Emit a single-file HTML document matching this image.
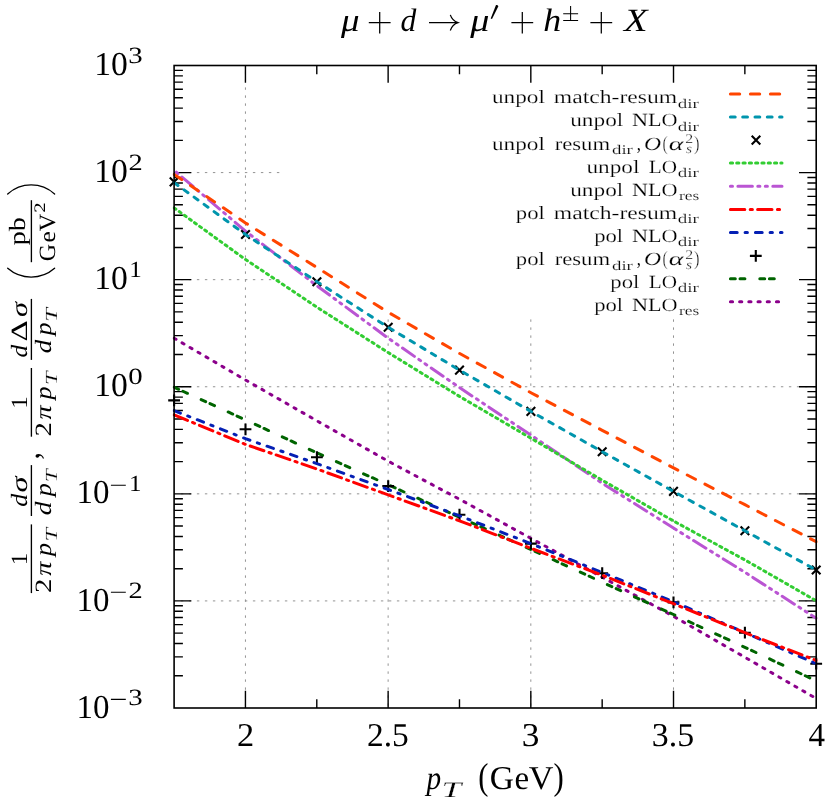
<!DOCTYPE html>
<html><head><meta charset="utf-8"><title>plot</title>
<style>html,body{margin:0;padding:0;background:#fff}svg{display:block}text{text-rendering:geometricPrecision}.tx{filter:grayscale(1)}text{font-family:"Liberation Serif",serif}</style>
</head><body>
<svg width="830" height="804" viewBox="0 0 830 804">
<defs><clipPath id="pc"><rect x="172.70" y="64.10" width="644.90" height="645.30"/></clipPath></defs>
<rect width="830" height="804" fill="#fff"/>
<g stroke="#939393" stroke-width="1.0" stroke-dasharray="2.4 5.6" fill="none"><line x1="245.44" y1="708.00" x2="245.44" y2="65.50" stroke-dashoffset="5.8"/><line x1="388.13" y1="708.00" x2="388.13" y2="317.50" stroke-dashoffset="5.8"/><line x1="530.82" y1="708.00" x2="530.82" y2="317.50" stroke-dashoffset="5.8"/><line x1="673.51" y1="708.00" x2="673.51" y2="317.50" stroke-dashoffset="5.8"/><line x1="174.10" y1="172.58" x2="279.50" y2="172.58" stroke-dashoffset="1.2"/><line x1="174.10" y1="279.67" x2="279.50" y2="279.67" stroke-dashoffset="1.2"/><line x1="174.10" y1="386.75" x2="816.20" y2="386.75" stroke-dashoffset="1.2"/><line x1="174.10" y1="493.83" x2="816.20" y2="493.83" stroke-dashoffset="1.2"/><line x1="174.10" y1="600.92" x2="816.20" y2="600.92" stroke-dashoffset="1.2"/></g>
<path d="M174.10 675.76h8.8M816.20 675.76h-8.8M174.10 656.91h8.8M816.20 656.91h-8.8M174.10 643.53h8.8M816.20 643.53h-8.8M174.10 633.15h8.8M816.20 633.15h-8.8M174.10 624.67h8.8M816.20 624.67h-8.8M174.10 617.50h8.8M816.20 617.50h-8.8M174.10 611.29h8.8M816.20 611.29h-8.8M174.10 605.82h8.8M816.20 605.82h-8.8M174.10 600.92h17.2M816.20 600.92h-17.2M174.10 568.68h8.8M816.20 568.68h-8.8M174.10 549.82h8.8M816.20 549.82h-8.8M174.10 536.45h8.8M816.20 536.45h-8.8M174.10 526.07h8.8M816.20 526.07h-8.8M174.10 517.59h8.8M816.20 517.59h-8.8M174.10 510.42h8.8M816.20 510.42h-8.8M174.10 504.21h8.8M816.20 504.21h-8.8M174.10 498.73h8.8M816.20 498.73h-8.8M174.10 493.83h17.2M816.20 493.83h-17.2M174.10 461.60h8.8M816.20 461.60h-8.8M174.10 442.74h8.8M816.20 442.74h-8.8M174.10 429.36h8.8M816.20 429.36h-8.8M174.10 418.99h8.8M816.20 418.99h-8.8M174.10 410.51h8.8M816.20 410.51h-8.8M174.10 403.34h8.8M816.20 403.34h-8.8M174.10 397.13h8.8M816.20 397.13h-8.8M174.10 391.65h8.8M816.20 391.65h-8.8M174.10 386.75h17.2M816.20 386.75h-17.2M174.10 354.51h8.8M816.20 354.51h-8.8M174.10 335.66h8.8M816.20 335.66h-8.8M174.10 322.28h8.8M816.20 322.28h-8.8M174.10 311.90h8.8M816.20 311.90h-8.8M174.10 303.42h8.8M816.20 303.42h-8.8M174.10 296.25h8.8M816.20 296.25h-8.8M174.10 290.04h8.8M816.20 290.04h-8.8M174.10 284.57h8.8M816.20 284.57h-8.8M174.10 279.67h17.2M816.20 279.67h-17.2M174.10 247.43h8.8M816.20 247.43h-8.8M174.10 228.57h8.8M816.20 228.57h-8.8M174.10 215.20h8.8M816.20 215.20h-8.8M174.10 204.82h8.8M816.20 204.82h-8.8M174.10 196.34h8.8M816.20 196.34h-8.8M174.10 189.17h8.8M816.20 189.17h-8.8M174.10 182.96h8.8M816.20 182.96h-8.8M174.10 177.48h8.8M816.20 177.48h-8.8M174.10 172.58h17.2M816.20 172.58h-17.2M174.10 140.35h8.8M816.20 140.35h-8.8M174.10 121.49h8.8M816.20 121.49h-8.8M174.10 108.11h8.8M816.20 108.11h-8.8M174.10 97.74h8.8M816.20 97.74h-8.8M174.10 89.26h8.8M816.20 89.26h-8.8M174.10 82.09h8.8M816.20 82.09h-8.8M174.10 75.88h8.8M816.20 75.88h-8.8M174.10 70.40h8.8M816.20 70.40h-8.8M245.44 65.50v17.2M245.44 708.00v-17.2M316.79 65.50v8.8M316.79 708.00v-8.8M388.13 65.50v17.2M388.13 708.00v-17.2M459.48 65.50v8.8M459.48 708.00v-8.8M530.82 65.50v17.2M530.82 708.00v-17.2M602.17 65.50v8.8M602.17 708.00v-8.8M673.51 65.50v17.2M673.51 708.00v-17.2M744.86 65.50v8.8M744.86 708.00v-8.8" stroke="#000" stroke-width="1.4" fill="none"/>
<g fill="none" stroke-width="3.0" stroke-linecap="round"><path d="M730.4 93.9H782.0" stroke="#ff4500" stroke-dasharray="9.3 10.7" stroke-dashoffset="0"/><path d="M730.4 116.9H782.0" stroke="#0095ad" stroke-dasharray="4.8 7.5" stroke-dashoffset="0"/><path d="M730.4 163.1H782.0" stroke="#32cd32" stroke-dasharray="2.2 4.1" stroke-dashoffset="0"/><path d="M730.4 186.3H782.0" stroke="#ba55d3" stroke-dasharray="14.5 5.4 2.1 5.4 2.1 5.4" stroke-dashoffset="27.4"/><path d="M730.4 209.4H782.0" stroke="#ff0000" stroke-dasharray="14.4 5.4 2.2 5.2" stroke-dashoffset="0"/><path d="M730.4 232.6H782.0" stroke="#0520b4" stroke-dasharray="6.8 7.9 2.3 8.0" stroke-dashoffset="0"/><path d="M730.4 278.7H782.0" stroke="#006400" stroke-dasharray="4.9 4.7 4.9 14.9" stroke-dashoffset="0"/><path d="M730.4 301.7H782.0" stroke="#8b008b" stroke-dasharray="2.2 7.0" stroke-dashoffset="0"/></g>
<path clip-path="url(#pc)" d="M174.10 338.20 L245.50 380.00 L316.90 420.80 L388.20 461.20 L459.50 499.20 L530.90 538.30 L602.20 577.20 L673.50 616.30 L744.90 657.30 L816.20 698.50" fill="none" stroke-width="3.0" stroke-linecap="round" stroke-linejoin="round" stroke="#8b008b" stroke-dasharray="2.210 7.033" stroke-dashoffset="0"/><path clip-path="url(#pc)" d="M174.10 387.20 L245.50 419.90 L316.90 452.90 L388.20 484.80 L459.50 517.20 L530.90 549.50 L602.20 582.20 L673.50 614.50 L744.90 647.30 L816.20 680.90" fill="none" stroke-width="3.0" stroke-linecap="round" stroke-linejoin="round" stroke="#006400" stroke-dasharray="4.959 4.756 4.959 15.079" stroke-dashoffset="0"/><path d="M168.20 400.40h11.8M174.10 394.50v11.8M239.60 429.30h11.8M245.50 423.40v11.8M311.00 457.20h11.8M316.90 451.30v11.8M382.30 486.10h11.8M388.20 480.20v11.8M453.60 514.70h11.8M459.50 508.80v11.8M525.00 543.60h11.8M530.90 537.70v11.8M596.30 573.20h11.8M602.20 567.30v11.8M667.60 602.40h11.8M673.50 596.50v11.8M739.00 632.70h11.8M744.90 626.80v11.8M810.30 663.70h11.8M816.20 657.80v11.8M749.90 255.90h11.8M755.80 250.00v11.8" stroke="#000" stroke-width="2.1" fill="none"/><path clip-path="url(#pc)" d="M174.10 410.60 L245.50 438.70 L316.90 463.60 L388.20 489.50 L459.50 515.80 L530.90 543.60 L602.20 572.50 L673.50 601.70 L744.90 632.70 L816.20 663.70" fill="none" stroke-width="3.0" stroke-linecap="round" stroke-linejoin="round" stroke="#0520b4" stroke-dasharray="6.768 7.863 2.289 7.962" stroke-dashoffset="0"/><path clip-path="url(#pc)" d="M174.10 414.80 L245.50 444.40 L316.90 469.00 L388.20 494.90 L459.50 520.80 L530.90 548.30 L602.20 575.20 L673.50 603.70 L744.90 632.70 L816.20 660.50" fill="none" stroke-width="3.0" stroke-linecap="round" stroke-linejoin="round" stroke="#ff0000" stroke-dasharray="14.512 5.442 2.217 5.241" stroke-dashoffset="0"/><path clip-path="url(#pc)" d="M174.10 170.30 L245.50 231.10 L316.90 285.80 L388.20 338.20 L459.50 387.60 L530.90 435.10 L602.20 483.20 L673.50 528.10 L744.90 572.30 L816.20 618.20" fill="none" stroke-width="3.0" stroke-linecap="round" stroke-linejoin="round" stroke="#ba55d3" stroke-dasharray="14.500 5.400 2.100 5.400 2.100 5.400" stroke-dashoffset="24.5"/><path clip-path="url(#pc)" d="M174.10 207.90 L245.50 259.50 L316.90 307.20 L388.20 352.60 L459.50 396.40 L530.90 438.20 L602.20 480.20 L673.50 521.00 L744.90 559.90 L816.20 600.80" fill="none" stroke-width="3.0" stroke-linecap="round" stroke-linejoin="round" stroke="#32cd32" stroke-dasharray="2.200 4.100" stroke-dashoffset="0"/><path d="M169.80 177.60L178.40 186.20M169.80 186.20L178.40 177.60M241.20 230.20L249.80 238.80M241.20 238.80L249.80 230.20M312.60 277.40L321.20 286.00M312.60 286.00L321.20 277.40M383.90 323.00L392.50 331.60M383.90 331.60L392.50 323.00M455.20 365.80L463.80 374.40M455.20 374.40L463.80 365.80M526.60 407.10L535.20 415.70M526.60 415.70L535.20 407.10M597.90 447.40L606.50 456.00M597.90 456.00L606.50 447.40M669.20 487.10L677.80 495.70M669.20 495.70L677.80 487.10M740.60 526.50L749.20 535.10M740.60 535.10L749.20 526.50M811.90 565.70L820.50 574.30M811.90 574.30L820.50 565.70M751.70 135.80L760.30 144.40M751.70 144.40L760.30 135.80" stroke="#000" stroke-width="2.1" fill="none"/><path clip-path="url(#pc)" d="M174.10 182.60 L245.50 234.50 L316.90 281.70 L388.20 327.30 L459.50 370.10 L530.90 411.40 L602.20 451.70 L673.50 491.40 L744.90 530.80 L816.20 570.00" fill="none" stroke-width="3.0" stroke-linecap="round" stroke-linejoin="round" stroke="#0095ad" stroke-dasharray="4.822 7.534" stroke-dashoffset="0"/><path clip-path="url(#pc)" d="M174.10 174.40 L245.50 222.90 L316.90 267.50 L388.20 312.30 L459.50 353.40 L530.90 392.70 L602.20 430.30 L673.50 467.90 L744.90 504.70 L816.20 541.70" fill="none" stroke-width="3.0" stroke-linecap="round" stroke-linejoin="round" stroke="#ff4500" stroke-dasharray="9.226 10.614" stroke-dashoffset="0"/>
<rect x="174.1" y="65.5" width="642.10" height="642.50" fill="none" stroke="#000" stroke-width="1.6"/>
<path d="M368.80 22.7h21.8M379.70 11.9v21.7M511.40 22.7h21.8M522.30 11.9v21.7M590.40 22.7h21.8M601.30 11.9v21.7M429.0 22.7H457.4M450.3 14.9C451.6 18.7 454.3 21.5 458.0 22.7C454.3 23.9 451.6 26.7 450.3 30.5" stroke="#000" stroke-width="1.25" fill="none"/><path d="M563.2 13.7H578.1M570.6 5.9V20.1M563.2 20.5H578.1" stroke="#000" stroke-width="1.05" fill="none"/><path d="M496.0 5.0Q497.6 4.6 498.4 6.2L492.0 18.9L490.7 18.4Z" fill="#000"/>
<path d="M110.9 485.23H125.8M110.9 592.32H125.8M110.9 699.40H125.8" stroke="#000" stroke-width="1.1" fill="none"/>
<g class="tx" font-family="'Liberation Serif', serif"><text transform="matrix(1.0291 0 0 1.0000 237.03 746.20)" font-size="33.4" fill="#000">2</text><text transform="matrix(1.0009 0 0 1.0000 366.96 746.20)" font-size="33.4" fill="#000">2.5</text><text transform="matrix(1.0574 0 0 1.0000 521.74 746.20)" font-size="33.4" fill="#000">3</text><text transform="matrix(1.0143 0 0 1.0000 651.81 746.20)" font-size="33.4" fill="#000">3.5</text><text transform="matrix(0.9900 0 0 1.0000 808.38 746.20)" font-size="33.4" fill="#000">4</text><text transform="matrix(1.0085 0 0 1.0000 94.27 75.20)" font-size="33.4" fill="#000">10</text><text transform="matrix(1.2411 0 0 1.0000 128.14 62.70)" font-size="23.3" fill="#000">3</text><text transform="matrix(1.0085 0 0 1.0000 94.27 182.28)" font-size="33.4" fill="#000">10</text><text transform="matrix(1.2208 0 0 1.0000 128.61 169.78)" font-size="23.3" fill="#000">2</text><text transform="matrix(1.0085 0 0 1.0000 94.27 289.37)" font-size="33.4" fill="#000">10</text><text transform="matrix(1.0758 0 0 1.0000 129.24 276.87)" font-size="23.3" fill="#000">1</text><text transform="matrix(1.0085 0 0 1.0000 94.27 396.45)" font-size="33.4" fill="#000">10</text><text transform="matrix(1.2361 0 0 1.0000 128.20 383.95)" font-size="23.3" fill="#000">0</text><text transform="matrix(0.9883 0 0 1.0000 76.52 503.43)" font-size="33.4" fill="#000">10</text><text transform="matrix(1.0758 0 0 1.0000 129.04 491.03)" font-size="23.3" fill="#000">1</text><text transform="matrix(0.9883 0 0 1.0000 76.52 610.52)" font-size="33.4" fill="#000">10</text><text transform="matrix(1.2208 0 0 1.0000 128.61 598.12)" font-size="23.3" fill="#000">2</text><text transform="matrix(0.9883 0 0 1.0000 76.52 717.60)" font-size="33.4" fill="#000">10</text><text transform="matrix(1.2411 0 0 1.0000 128.14 705.20)" font-size="23.3" fill="#000">3</text><text transform="matrix(0.8760 0 0 1.0000 426.53 788.60)" font-size="33.4" font-style="italic" fill="#000">p</text><text transform="matrix(1.1793 0 0 0.7400 441.59 796.80)" font-size="30.0" font-style="italic" stroke="#fff" stroke-width="0.254" fill="#000">T</text><text transform="matrix(0.9155 0 0 1.1200 478.24 788.90)" font-size="33.4" fill="#000">(</text><text transform="matrix(1.0026 0 0 1.0000 489.85 788.90)" font-size="33.4" fill="#000">G</text><text transform="matrix(0.9887 0 0 1.0000 514.47 788.90)" font-size="33.4" fill="#000">e</text><text transform="matrix(1.0247 0 0 1.0000 528.80 788.90)" font-size="33.4" fill="#000">V</text><text transform="matrix(0.9243 0 0 1.1200 553.44 788.90)" font-size="33.4" fill="#000">)</text><text transform="matrix(1.1336 0 0 1.0000 340.88 30.70)" font-size="32.6" font-style="italic" fill="#000">μ</text><text transform="matrix(0.9693 0 0 1.0000 400.51 30.70)" font-size="32.6" font-style="italic" fill="#000">d</text><text transform="matrix(1.1716 0 0 1.0000 470.20 30.70)" font-size="32.6" font-style="italic" fill="#000">μ</text><text transform="matrix(1.1008 0 0 1.0000 543.18 30.70)" font-size="32.6" font-style="italic" fill="#000">h</text><text transform="matrix(1.1866 0 0 1.0000 624.11 30.70)" font-size="32.6" font-style="italic" fill="#000">X</text><text transform="matrix(1.2439 0 0 1.0000 491.90 103.30)" font-size="18.7" stroke="#fff" stroke-width="0.177" fill="#000">unpol</text><text transform="matrix(1.2647 0 0 1.0000 553.83 103.30)" font-size="18.7" stroke="#fff" stroke-width="0.174" fill="#000">match-resum</text><text transform="matrix(1.4380 0 0 1.0000 677.81 107.50)" font-size="13.2" stroke="#fff" stroke-width="0.153" fill="#000">dir</text><text transform="matrix(1.2462 0 0 1.0000 570.20 126.30)" font-size="18.7" stroke="#fff" stroke-width="0.177" fill="#000">unpol</text><text transform="matrix(1.1869 0 0 1.0000 632.05 126.30)" font-size="18.7" stroke="#fff" stroke-width="0.185" fill="#000">NLO</text><text transform="matrix(1.4380 0 0 1.0000 677.81 130.50)" font-size="13.2" stroke="#fff" stroke-width="0.153" fill="#000">dir</text><text transform="matrix(1.2439 0 0 1.0000 491.90 149.50)" font-size="18.7" stroke="#fff" stroke-width="0.177" fill="#000">unpol</text><text transform="matrix(1.2129 0 0 1.0000 554.65 149.50)" font-size="18.7" stroke="#fff" stroke-width="0.181" fill="#000">resum</text><text transform="matrix(1.4239 0 0 1.0000 612.01 153.70)" font-size="13.2" stroke="#fff" stroke-width="0.155" fill="#000">dir</text><text transform="matrix(0.8898 0 0 1.0000 636.68 149.50)" font-size="18.7" fill="#000">,</text><text transform="matrix(1.2631 0 0 1.0000 644.09 149.50)" font-size="18.7" font-style="italic" stroke="#fff" stroke-width="0.174" fill="#000">O</text><text transform="matrix(0.8366 0 0 1.0800 662.51 149.50)" font-size="18.7" stroke="#fff" stroke-width="0.359" fill="#000">(</text><text transform="matrix(1.4998 0 0 1.0000 668.86 149.50)" font-size="18.7" font-style="italic" stroke="#fff" stroke-width="0.147" fill="#000">α</text><text transform="matrix(1.2031 0 0 1.0000 685.30 142.90)" font-size="13.2" stroke="#fff" stroke-width="0.249" fill="#000">2</text><text transform="matrix(1.1805 0 0 1.0000 686.00 153.30)" font-size="13.2" font-style="italic" stroke="#fff" stroke-width="0.254" fill="#000">s</text><text transform="matrix(0.8858 0 0 1.0800 694.08 149.50)" font-size="18.7" stroke="#fff" stroke-width="0.339" fill="#000">)</text><text transform="matrix(1.2439 0 0 1.0000 586.40 172.50)" font-size="18.7" stroke="#fff" stroke-width="0.177" fill="#000">unpol</text><text transform="matrix(1.1340 0 0 1.0000 648.77 172.50)" font-size="18.7" stroke="#fff" stroke-width="0.194" fill="#000">LO</text><text transform="matrix(1.4380 0 0 1.0000 677.81 176.70)" font-size="13.2" stroke="#fff" stroke-width="0.153" fill="#000">dir</text><text transform="matrix(1.2462 0 0 1.0000 570.20 195.70)" font-size="18.7" stroke="#fff" stroke-width="0.177" fill="#000">unpol</text><text transform="matrix(1.1869 0 0 1.0000 632.05 195.70)" font-size="18.7" stroke="#fff" stroke-width="0.185" fill="#000">NLO</text><text transform="matrix(1.3250 0 0 1.0000 678.93 199.90)" font-size="13.2" stroke="#fff" stroke-width="0.166" fill="#000">res</text><text transform="matrix(1.2150 0 0 1.0000 515.85 218.80)" font-size="18.7" stroke="#fff" stroke-width="0.181" fill="#000">pol</text><text transform="matrix(1.2647 0 0 1.0000 553.83 218.80)" font-size="18.7" stroke="#fff" stroke-width="0.174" fill="#000">match-resum</text><text transform="matrix(1.4380 0 0 1.0000 677.81 223.00)" font-size="13.2" stroke="#fff" stroke-width="0.153" fill="#000">dir</text><text transform="matrix(1.2150 0 0 1.0000 594.14 242.00)" font-size="18.7" stroke="#fff" stroke-width="0.181" fill="#000">pol</text><text transform="matrix(1.1869 0 0 1.0000 632.05 242.00)" font-size="18.7" stroke="#fff" stroke-width="0.185" fill="#000">NLO</text><text transform="matrix(1.4380 0 0 1.0000 677.81 246.20)" font-size="13.2" stroke="#fff" stroke-width="0.153" fill="#000">dir</text><text transform="matrix(1.2150 0 0 1.0000 515.85 265.30)" font-size="18.7" stroke="#fff" stroke-width="0.181" fill="#000">pol</text><text transform="matrix(1.2129 0 0 1.0000 554.65 265.30)" font-size="18.7" stroke="#fff" stroke-width="0.181" fill="#000">resum</text><text transform="matrix(1.4239 0 0 1.0000 612.01 269.50)" font-size="13.2" stroke="#fff" stroke-width="0.155" fill="#000">dir</text><text transform="matrix(0.8898 0 0 1.0000 636.68 265.30)" font-size="18.7" fill="#000">,</text><text transform="matrix(1.2631 0 0 1.0000 644.09 265.30)" font-size="18.7" font-style="italic" stroke="#fff" stroke-width="0.174" fill="#000">O</text><text transform="matrix(0.8366 0 0 1.0800 662.51 265.30)" font-size="18.7" stroke="#fff" stroke-width="0.359" fill="#000">(</text><text transform="matrix(1.4998 0 0 1.0000 668.86 265.30)" font-size="18.7" font-style="italic" stroke="#fff" stroke-width="0.147" fill="#000">α</text><text transform="matrix(1.2031 0 0 1.0000 685.30 258.70)" font-size="13.2" stroke="#fff" stroke-width="0.249" fill="#000">2</text><text transform="matrix(1.1805 0 0 1.0000 686.00 269.10)" font-size="13.2" font-style="italic" stroke="#fff" stroke-width="0.254" fill="#000">s</text><text transform="matrix(0.8858 0 0 1.0800 694.08 265.30)" font-size="18.7" stroke="#fff" stroke-width="0.339" fill="#000">)</text><text transform="matrix(1.2150 0 0 1.0000 610.35 288.10)" font-size="18.7" stroke="#fff" stroke-width="0.181" fill="#000">pol</text><text transform="matrix(1.1340 0 0 1.0000 648.77 288.10)" font-size="18.7" stroke="#fff" stroke-width="0.194" fill="#000">LO</text><text transform="matrix(1.4380 0 0 1.0000 677.81 292.30)" font-size="13.2" stroke="#fff" stroke-width="0.153" fill="#000">dir</text><text transform="matrix(1.2150 0 0 1.0000 594.14 311.10)" font-size="18.7" stroke="#fff" stroke-width="0.181" fill="#000">pol</text><text transform="matrix(1.1869 0 0 1.0000 632.05 311.10)" font-size="18.7" stroke="#fff" stroke-width="0.185" fill="#000">NLO</text><text transform="matrix(1.3250 0 0 1.0000 678.93 315.30)" font-size="13.2" stroke="#fff" stroke-width="0.166" fill="#000">res</text></g>
<g class="tx" transform="translate(0 593.0) rotate(-90)" font-family="'Liberation Serif', serif"><text transform="matrix(1.0644 0 0 1.0000 27.76 27.00)" font-size="23.3" fill="#000">1</text><text transform="matrix(1.2411 0 0 1.0000 0.10 51.10)" font-size="23.3" fill="#000">2</text><text transform="matrix(1.2118 0 0 1.0000 17.20 51.20)" font-size="23.3" font-style="italic" fill="#000">π</text><text transform="matrix(1.1223 0 0 1.0000 37.03 51.20)" font-size="23.3" font-style="italic" fill="#000">p</text><text transform="matrix(1.1071 0 0 0.7700 51.58 57.10)" font-size="22.0" font-style="italic" stroke="#fff" stroke-width="0.226" fill="#000">T</text><text transform="matrix(1.0644 0 0 1.0000 184.16 27.00)" font-size="23.3" fill="#000">1</text><text transform="matrix(1.2411 0 0 1.0000 156.50 51.10)" font-size="23.3" fill="#000">2</text><text transform="matrix(1.2118 0 0 1.0000 173.60 51.20)" font-size="23.3" font-style="italic" fill="#000">π</text><text transform="matrix(1.1223 0 0 1.0000 193.43 51.20)" font-size="23.3" font-style="italic" fill="#000">p</text><text transform="matrix(1.1071 0 0 0.7700 207.98 57.10)" font-size="22.0" font-style="italic" stroke="#fff" stroke-width="0.226" fill="#000">T</text><text transform="matrix(1.1159 0 0 1.0000 86.19 27.00)" font-size="23.3" font-style="italic" fill="#000">d</text><text transform="matrix(1.3900 0 0 1.0000 100.39 27.00)" font-size="23.3" font-style="italic" fill="#000">σ</text><text transform="matrix(1.1845 0 0 1.0000 77.77 51.30)" font-size="23.3" font-style="italic" fill="#000">d</text><text transform="matrix(1.1223 0 0 1.0000 96.63 51.20)" font-size="23.3" font-style="italic" fill="#000">p</text><text transform="matrix(1.0586 0 0 0.7700 110.84 57.10)" font-size="22.0" font-style="italic" stroke="#fff" stroke-width="0.236" fill="#000">T</text><text transform="matrix(0.8814 0 0 1.0000 133.38 38.90)" font-size="33.4" fill="#000">,</text><text transform="matrix(1.0815 0 0 1.0000 235.41 27.00)" font-size="23.3" font-style="italic" fill="#000">d</text><text transform="matrix(1.4179 0 0 1.0000 251.47 26.80)" font-size="23.3" fill="#000">Δ</text><text transform="matrix(1.2985 0 0 1.0000 275.93 27.00)" font-size="23.3" font-style="italic" fill="#000">σ</text><text transform="matrix(1.1588 0 0 1.0000 239.68 51.30)" font-size="23.3" font-style="italic" fill="#000">d</text><text transform="matrix(1.0909 0 0 1.0000 257.79 51.20)" font-size="23.3" font-style="italic" fill="#000">p</text><text transform="matrix(1.1232 0 0 0.7700 271.26 57.10)" font-size="22.0" font-style="italic" stroke="#fff" stroke-width="0.223" fill="#000">T</text><text transform="matrix(1.2023 0 0 1.0000 347.76 25.20)" font-size="23.3" fill="#000">pb</text><text transform="matrix(1.0284 0 0 1.0000 331.75 55.40)" font-size="23.3" fill="#000">G</text><text transform="matrix(1.0987 0 0 1.0000 350.50 55.40)" font-size="23.3" fill="#000">e</text><text transform="matrix(1.0450 0 0 1.0000 361.80 55.40)" font-size="23.3" fill="#000">V</text><text transform="matrix(1.2889 0 0 1.0000 380.36 44.80)" font-size="16.0" fill="#000">2</text><path d="M-0.1 31.4H68.6" stroke="#000" stroke-width="1.35"/><path d="M77.0 31.4H127.9" stroke="#000" stroke-width="1.35"/><path d="M156.3 31.4H225.0" stroke="#000" stroke-width="1.35"/><path d="M233.1 31.4H294.1" stroke="#000" stroke-width="1.35"/><path d="M330.8 31.4H392.8" stroke="#000" stroke-width="1.35"/><path d="M324.70 7.70A35.64 35.64 0 0 0 324.70 54.60" fill="none" stroke="#000" stroke-width="1.35" stroke-linecap="round"/><path d="M399.00 7.70A34.76 34.76 0 0 1 399.00 54.60" fill="none" stroke="#000" stroke-width="1.35" stroke-linecap="round"/></g>
</svg>
</body></html>
